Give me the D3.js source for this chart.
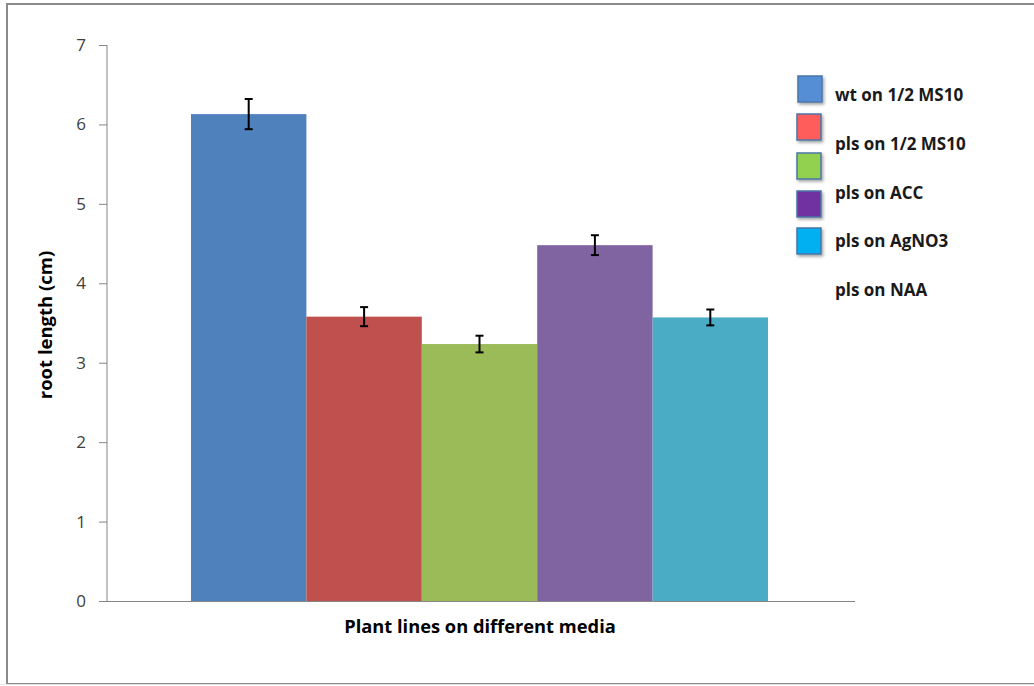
<!DOCTYPE html>
<html><head><meta charset="utf-8">
<script src="https://cdn.jsdelivr.net/npm/d3@7"></script>
<style>body{margin:0;background:#fff}svg{display:block}</style>
</head><body>
<script>
const categories = ["wt on 1/2 MS10","pls on 1/2 MS10","pls on ACC","pls on AgNO3","pls on NAA"];
const values = [6.13, 3.58, 3.235, 4.48, 3.57];
const errors = [0.19, 0.12, 0.105, 0.125, 0.10];
const barColors = ["#4F81BD","#C0504D","#9BBB59","#8064A2","#4BACC6"];
const legendLabels = ["wt on 1/2 MS10","pls on 1/2 MS10","pls on ACC","pls on AgNO3","pls on NAA"];
const legendColors = ["#558ED5","#FF5B5B","#92D050","#7030A0","#00B0F0"];
const yTicks = [0,1,2,3,4,5,6,7];

const W = 1034, H = 686;
const svg = d3.select("body").append("svg").attr("width", W).attr("height", H);
const font = "'Open Sans', 'Noto Sans', sans-serif";

// frame
svg.append("rect").attr("x",7).attr("y",4).attr("width",W+10).attr("height",680)
  .attr("fill","#fff").attr("stroke","#8a8a8a").attr("stroke-width",2);
svg.append("line").attr("x1",0).attr("x2",W).attr("y1",684.5).attr("y2",684.5).attr("stroke","#e6e6e6");

const x0 = 107, x1 = 855, y0 = 601, y1 = 45;
const y = d3.scaleLinear().domain([0,7]).range([y0,y1]);
const x = d3.scaleBand().domain(categories).range([191,768]).padding(0);

// y axis
const yAxis = d3.axisLeft(y).tickValues(yTicks).tickSize(8).tickPadding(13).tickFormat(d3.format("d"));
const gy = svg.append("g").attr("transform",`translate(${x0},0)`).call(yAxis);
gy.select(".domain").attr("stroke","#868686").attr("d",`M0,${y1}V${y0}`);
gy.selectAll(".tick line").attr("stroke","#868686");
gy.selectAll(".tick text").attr("font-family",font).attr("font-size",17).attr("fill","#404040");

// bars
svg.selectAll("rect.bar").data(categories).join("rect").attr("class","bar")
  .attr("x",d=>x(d)).attr("width",x.bandwidth())
  .attr("y",(d,i)=>y(values[i])).attr("height",(d,i)=>y(0)-y(values[i]))
  .attr("fill",(d,i)=>barColors[i]);

// x axis line
svg.append("line").attr("x1",x0).attr("x2",x1).attr("y1",y0+0.5).attr("y2",y0+0.5)
  .attr("stroke","#868686").attr("stroke-width",1.2);

// error bars
const eb = svg.append("g").attr("stroke","#000").attr("stroke-width",2);
categories.forEach((c,i)=>{
  const cx = x(c)+x.bandwidth()/2;
  const top = y(values[i]+errors[i]), bot = y(values[i]-errors[i]);
  eb.append("line").attr("x1",cx).attr("x2",cx).attr("y1",top).attr("y2",bot);
  eb.append("line").attr("x1",cx-4).attr("x2",cx+4).attr("y1",top).attr("y2",top);
  eb.append("line").attr("x1",cx-4).attr("x2",cx+4).attr("y1",bot).attr("y2",bot);
});

// axis titles
svg.append("text").attr("x",480).attr("y",633).attr("text-anchor","middle")
  .attr("font-family",font).attr("font-weight","bold").attr("font-size",18.3).attr("fill","#000")
  .text("Plant lines on different media");
svg.append("text").attr("transform","translate(52,325) rotate(-90)").attr("text-anchor","middle")
  .attr("font-family",font).attr("font-weight","bold").attr("font-size",18.5).attr("fill","#000")
  .text("root  length (cm)");

// legend
const swY = [76,114,153,191,228];
const lg = svg.append("g");
const defs = svg.append("defs");
const f = defs.append("filter").attr("id","sh").attr("x","-30%").attr("y","-30%").attr("width","170%").attr("height","170%");
f.append("feDropShadow").attr("dx",1.5).attr("dy",2).attr("stdDeviation",1.5).attr("flood-color","#000").attr("flood-opacity",0.35);
legendColors.forEach((c,i)=>{
  lg.append("rect").attr("x", i===0?798:797).attr("y",swY[i]).attr("width",24).attr("height",26)
    .attr("fill",c).attr("stroke","#4a76a8").attr("stroke-width",1.5).attr("filter","url(#sh)");
});
const labY = [101,150,199,247,296];
legendLabels.forEach((t,i)=>{
  lg.append("text").attr("x",835).attr("y",labY[i]).attr("font-family",font).attr("font-weight","bold")
    .attr("font-size",17).attr("fill","#1a1a1a").text(t);
});
</script>
</body></html>
